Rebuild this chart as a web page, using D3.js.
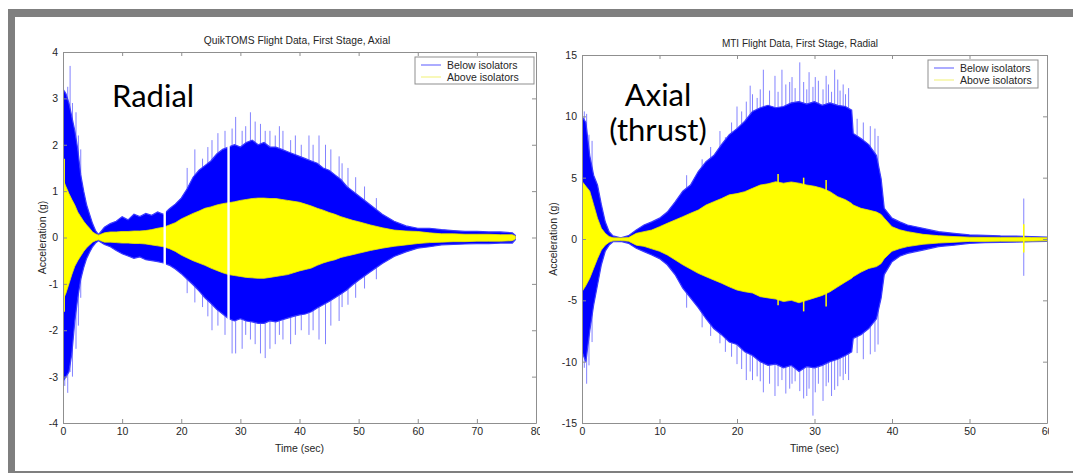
<!DOCTYPE html>
<html>
<head>
<meta charset="utf-8">
<script src="https://cdn.jsdelivr.net/npm/d3@7"></script>
<style>
  body { margin: 0; background: #fff; }
  svg { display: block; }
</style>
</head>
<body>
<div id="chart"></div>
<script>
// ---- data ----

// QuikTOMS panel (left): envelope of the signals, in g
const leftTime = [0, 0.5, 1, 1.5, 2, 2.5, 3, 3.5, 4, 4.5, 5, 5.5, 6, 7, 8, 9, 10, 11, 12, 13, 14, 15, 16, 17, 18, 19, 20, 21, 22, 23, 24, 25, 26, 27, 28, 29, 30, 31, 32, 33, 34, 35, 36, 37, 38, 39, 40, 41, 42, 43, 44, 45, 46, 47, 48, 49, 50, 52, 54, 56, 58, 60, 62, 64, 66, 68, 70, 72, 74, 76, 76.5]
const leftBlueHi = [3.2, 3.1, 2.9, 2.6, 2.3, 1.9, 1.35, 1.0, 0.7, 0.5, 0.3, 0.15, 0.06, 0.22, 0.3, 0.35, 0.45, 0.38, 0.5, 0.45, 0.52, 0.48, 0.55, 0.5, 0.62, 0.72, 0.85, 1.05, 1.3, 1.45, 1.55, 1.65, 1.8, 1.9, 1.95, 2.0, 1.95, 2.05, 2.1, 2.0, 2.05, 1.95, 1.95, 1.9, 1.85, 1.8, 1.75, 1.7, 1.65, 1.6, 1.5, 1.45, 1.35, 1.25, 1.1, 1.0, 0.9, 0.7, 0.5, 0.35, 0.25, 0.2, 0.2, 0.17, 0.15, 0.13, 0.13, 0.12, 0.12, 0.1, 0.05]
const leftBlueLo = [-3.1, -3.0, -2.9, -2.5, -1.8, -1.3, -0.9, -0.65, -0.45, -0.32, -0.2, -0.12, -0.07, -0.15, -0.2, -0.28, -0.35, -0.4, -0.45, -0.42, -0.48, -0.5, -0.52, -0.55, -0.6, -0.68, -0.78, -0.9, -1.02, -1.15, -1.3, -1.42, -1.55, -1.65, -1.75, -1.8, -1.75, -1.8, -1.82, -1.85, -1.85, -1.8, -1.82, -1.78, -1.74, -1.7, -1.67, -1.65, -1.6, -1.52, -1.45, -1.38, -1.3, -1.22, -1.13, -1.02, -0.92, -0.74, -0.56, -0.41, -0.31, -0.23, -0.2, -0.16, -0.15, -0.14, -0.13, -0.13, -0.12, -0.12, -0.05]
const leftYellowHi = [1.25, 1.1, 0.95, 0.82, 0.7, 0.55, 0.45, 0.35, 0.27, 0.2, 0.12, 0.08, 0.05, 0.1, 0.12, 0.12, 0.13, 0.13, 0.14, 0.14, 0.15, 0.17, 0.2, 0.22, 0.27, 0.32, 0.4, 0.46, 0.52, 0.57, 0.63, 0.66, 0.7, 0.73, 0.75, 0.77, 0.8, 0.82, 0.84, 0.85, 0.85, 0.84, 0.84, 0.82, 0.8, 0.78, 0.76, 0.72, 0.68, 0.63, 0.59, 0.54, 0.5, 0.45, 0.41, 0.37, 0.34, 0.27, 0.21, 0.16, 0.14, 0.13, 0.1, 0.08, 0.08, 0.07, 0.07, 0.07, 0.06, 0.06, 0.03]
const leftYellowLo = [-1.35, -1.2, -1.0, -0.8, -0.62, -0.5, -0.4, -0.3, -0.22, -0.16, -0.1, -0.07, -0.05, -0.1, -0.1, -0.11, -0.12, -0.12, -0.13, -0.13, -0.14, -0.16, -0.18, -0.2, -0.24, -0.3, -0.38, -0.44, -0.5, -0.55, -0.6, -0.66, -0.71, -0.76, -0.8, -0.82, -0.84, -0.86, -0.87, -0.88, -0.88, -0.86, -0.84, -0.82, -0.8, -0.76, -0.72, -0.69, -0.66, -0.6, -0.55, -0.51, -0.48, -0.43, -0.4, -0.37, -0.34, -0.28, -0.23, -0.19, -0.16, -0.13, -0.11, -0.1, -0.09, -0.09, -0.08, -0.08, -0.08, -0.07, -0.03]
// single peaks sticking out of the envelope: [time, max, min]
const leftBlueSpikes = [[0.3, 3.15, -3.2], [0.8, 3.25, -3.35], [1.2, 3.7, -2.9], [1.6, 2.9, -3.0], [2.2, 2.7, -2.4], [2.6, 2.2, -1.9], [3.0, 1.9, -1.3], [21.0, 1.5, -1.2], [22.3, 1.9, -1.4], [23.6, 1.7, -1.5], [24.5, 1.95, -1.7], [25.2, 2.1, -2.0], [26.2, 2.25, -1.9], [27.4, 2.3, -2.1], [28.6, 2.35, -2.5], [29.2, 2.6, -2.5], [30.3, 2.3, -2.4], [30.9, 2.4, -2.1], [31.7, 2.7, -2.2], [32.5, 2.5, -2.3], [33.4, 2.45, -2.5], [34.2, 2.3, -2.6], [35.0, 2.3, -2.4], [35.9, 2.2, -2.3], [36.6, 2.4, -2.1], [37.2, 2.3, -2.2], [38.5, 2.1, -2.3], [39.3, 2.2, -2.1], [40.3, 2.0, -2.0], [41.6, 2.2, -2.1], [42.3, 2.0, -2.0], [43.3, 2.2, -2.2], [44.4, 2.0, -2.3], [45.3, 1.9, -1.9], [46.7, 1.75, -1.8], [47.2, 1.6, -1.5], [48.2, 1.5, -1.45], [49.5, 1.3, -1.3], [51.0, 1.1, -1.1], [53.0, 0.85, -0.9]]
const leftYellowSpikes = [[0.2, 1.7, -1.6]]
// dropouts in the record (white gaps)
const leftGaps = [17.2, 28.0]

// MTI panel (right)
const rightTime = [0, 0.5, 1, 1.5, 2, 2.5, 3, 3.5, 4, 5, 6, 7, 8, 9, 10, 11, 12, 13, 14, 15, 16, 17, 18, 19, 20, 21, 22, 23, 24, 25, 26, 27, 28, 29, 30, 31, 32, 33, 34, 34.8, 35, 36, 37, 38, 38.6, 39, 40, 41, 42, 44, 46, 48, 50, 52, 54, 56, 58, 60]
const rightBlueHi = [10.0, 9.5, 6.8, 5.2, 4.4, 2.8, 1.4, 0.6, 0.25, 0.1, 0.27, 0.73, 1.14, 1.4, 1.7, 2.2, 3.0, 3.9, 4.4, 5.5, 6.3, 6.8, 7.7, 8.5, 9.0, 9.6, 10.4, 10.7, 10.9, 10.7, 10.8, 11.1, 11.2, 11.0, 11.2, 10.9, 11.1, 10.9, 10.8, 10.5, 8.6, 8.2, 7.7, 6.8, 4.9, 2.5, 1.7, 1.4, 1.14, 0.87, 0.6, 0.46, 0.33, 0.3, 0.25, 0.24, 0.2, 0.15]
const rightBlueLo = [-9.2, -10.0, -7.5, -5.4, -3.75, -2.1, -1.0, -0.5, -0.22, -0.2, -0.35, -0.76, -1.03, -1.3, -1.6, -2.1, -2.9, -4.0, -4.8, -5.6, -6.5, -7.3, -7.8, -8.4, -8.6, -9.2, -9.5, -10.0, -10.3, -10.2, -10.5, -10.3, -10.8, -10.4, -10.5, -10.3, -10.0, -9.8, -9.5, -9.2, -8.1, -7.8, -7.3, -6.5, -4.8, -2.9, -1.85, -1.4, -1.17, -0.9, -0.62, -0.5, -0.35, -0.3, -0.27, -0.25, -0.22, -0.2]
const rightYellowHi = [4.7, 4.3, 3.9, 2.8, 1.7, 0.87, 0.46, 0.2, 0.1, 0.08, 0.12, 0.46, 0.6, 0.73, 1.0, 1.28, 1.55, 1.82, 2.1, 2.36, 2.77, 3.04, 3.3, 3.6, 3.7, 3.86, 4.13, 4.4, 4.5, 4.67, 4.55, 4.65, 4.55, 4.4, 4.3, 4.13, 3.86, 3.45, 3.2, 2.9, 2.77, 2.5, 2.36, 2.2, 2.0, 1.7, 1.0, 0.75, 0.6, 0.38, 0.27, 0.2, 0.15, 0.14, 0.13, 0.13, 0.12, 0.1]
const rightYellowLo = [-4.3, -3.8, -3.2, -2.4, -1.6, -0.9, -0.5, -0.27, -0.15, -0.12, -0.18, -0.5, -0.6, -0.8, -1.0, -1.3, -1.7, -2.1, -2.45, -2.8, -3.07, -3.34, -3.6, -3.9, -4.16, -4.3, -4.4, -4.7, -4.8, -4.9, -5.1, -5.0, -5.2, -5.0, -4.8, -4.6, -4.3, -3.9, -3.5, -3.2, -3.07, -2.7, -2.4, -2.25, -2.0, -1.6, -1.0, -0.78, -0.62, -0.43, -0.33, -0.27, -0.2, -0.2, -0.18, -0.18, -0.17, -0.15]
const rightBlueSpikes = [[0.3, 10.4, -10.5], [0.6, 10.2, -11.8], [0.9, 8.5, -10.3], [1.3, 8.0, -8.4], [13.5, 5.2, -5.6], [15.5, 6.5, -7.2], [16.6, 7.5, -7.9], [17.8, 8.8, -8.5], [18.5, 8.3, -9.2], [19.3, 9.5, -9.6], [20.0, 10.8, -10.2], [20.6, 10.4, -10.6], [21.2, 11.2, -11.5], [21.7, 12.5, -10.8], [22.0, 11.8, -11.5], [22.6, 11.5, -11.2], [23.0, 12.2, -11.6], [23.4, 13.8, -12.5], [24.2, 12.1, -11.8], [24.9, 13.3, -12.8], [25.3, 12.0, -12.0], [25.8, 13.8, -11.5], [26.3, 12.6, -12.6], [26.8, 12.8, -12.2], [27.1, 13.2, -11.8], [27.5, 12.3, -11.6], [28.1, 14.4, -12.4], [28.6, 12.8, -13.0], [29.0, 12.2, -12.8], [29.3, 13.6, -12.2], [29.8, 12.4, -14.4], [30.1, 13.2, -12.5], [30.5, 12.9, -11.8], [31.1, 12.2, -13.2], [31.5, 13.3, -12.0], [31.8, 12.6, -11.7], [32.2, 12.0, -12.8], [32.6, 13.8, -12.3], [33.0, 13.0, -12.0], [33.3, 12.1, -11.2], [33.7, 12.6, -11.5], [34.0, 11.8, -11.0], [34.4, 12.3, -11.5], [35.5, 9.8, -9.3], [36.3, 9.5, -9.8], [37.2, 9.2, -9.4], [37.8, 9.0, -9.2], [38.2, 8.4, -8.6], [57.0, 3.3, -3.0]]
const rightYellowSpikes = [[25.3, 5.3, -5.4], [28.6, 5.0, -5.9], [31.5, 4.8, -5.5], [57.0, 1.2, -1.1]]
const rightGaps = []

// axes
const leftXTicks = [0, 10, 20, 30, 40, 50, 60, 70, 80]
const leftYTicks = [-4, -3, -2, -1, 0, 1, 2, 3, 4]
const rightXTicks = [0, 10, 20, 30, 40, 50, 60]
const rightYTicks = [-15, -10, -5, 0, 5, 10, 15]
const legendLabels = ['Below isolators', 'Above isolators']

// ---- drawing ----
const W = 1073
const H = 475

const svg = d3.select('#chart').append('svg')
  .attr('width', W)
  .attr('height', H)

// grey frame around the slide
svg.append('rect').attr('x', 8).attr('y', 9).attr('width', W - 8).attr('height', 8).attr('fill', '#7f7f7f')
svg.append('rect').attr('x', 8).attr('y', 9).attr('width', 7).attr('height', 464).attr('fill', '#7f7f7f')
svg.append('rect').attr('x', 8).attr('y', 471).attr('width', W - 8).attr('height', 2).attr('fill', '#7f7f7f')

const BLUE = '#0000ff'
const YELLOW = '#ffff00'
const AXIS = '#8f8f8f'
const TEXT = '#262626'
const FONT = 'Liberation Sans, Arial, sans-serif'

function drawPanel (p) {
  const g = svg.append('g')

  const clipId = 'clip-' + p.id
  const viewId = 'view-' + p.id
  g.append('clipPath').attr('id', clipId)
    .append('rect')
    .attr('x', p.left).attr('y', p.top)
    .attr('width', p.right - p.left).attr('height', p.bottom - p.top)
  // the pasted picture is cut a little right of the plot
  g.append('clipPath').attr('id', viewId)
    .append('rect')
    .attr('x', p.left - 80).attr('y', 20)
    .attr('width', p.cut - p.left + 80).attr('height', 450)

  const root = g.append('g').attr('clip-path', 'url(#' + viewId + ')')

  const x = d3.scaleLinear().domain(p.xDomain).range([p.left, p.right])
  const y = d3.scaleLinear().domain(p.yDomain).range([p.bottom, p.top])

  const rows = p.time.map((t, i) => ({
    t: t, bh: p.blueHi[i], bl: p.blueLo[i], yh: p.yellowHi[i], yl: p.yellowLo[i]
  }))

  const plot = root.append('g').attr('clip-path', 'url(#' + clipId + ')')

  plot.selectAll('line.bspike')
    .data(p.blueSpikes)
    .join('line')
    .attr('class', 'bspike')
    .attr('x1', d => x(d[0])).attr('x2', d => x(d[0]))
    .attr('y1', d => y(d[1])).attr('y2', d => y(d[2]))
    .attr('stroke', '#5a5aff')
    .attr('stroke-width', 1)
    .attr('opacity', 0.75)

  plot.append('path')
    .datum(rows)
    .attr('d', d3.area().x(d => x(d.t)).y0(d => y(d.bl)).y1(d => y(d.bh)))
    .attr('fill', BLUE)
    .attr('stroke', '#3b3bff')
    .attr('stroke-width', 1.2)

  plot.append('path')
    .datum(rows)
    .attr('d', d3.area().x(d => x(d.t)).y0(d => y(d.yl)).y1(d => y(d.yh)))
    .attr('fill', YELLOW)
    .attr('stroke', '#e8e800')
    .attr('stroke-width', 0.8)

  plot.selectAll('line.yspike')
    .data(p.yellowSpikes)
    .join('line')
    .attr('class', 'yspike')
    .attr('x1', d => x(d[0])).attr('x2', d => x(d[0]))
    .attr('y1', d => y(d[1])).attr('y2', d => y(d[2]))
    .attr('stroke', YELLOW)
    .attr('stroke-width', 1.5)

  plot.selectAll('rect.gap')
    .data(p.gaps)
    .join('rect')
    .attr('class', 'gap')
    .attr('x', d => x(d) - 1.2)
    .attr('y', p.top + 1)
    .attr('width', 2.4)
    .attr('height', p.bottom - p.top - 2)
    .attr('fill', '#fff')

  // axes, ticks pointing inward on all four sides like matlab
  const fmt = d => String(d)
  root.append('g')
    .attr('transform', 'translate(0,' + p.bottom + ')')
    .call(d3.axisBottom(x).tickValues(p.xTicks).tickSize(-4).tickSizeOuter(0).tickPadding(5).tickFormat(fmt))
  root.append('g')
    .attr('transform', 'translate(0,' + p.top + ')')
    .call(d3.axisTop(x).tickValues(p.xTicks).tickSize(-4).tickSizeOuter(0).tickFormat(''))
  root.append('g')
    .attr('transform', 'translate(' + p.left + ',0)')
    .call(d3.axisLeft(y).tickValues(p.yTicks).tickSize(-4).tickSizeOuter(0).tickPadding(5).tickFormat(fmt))
  root.append('g')
    .attr('transform', 'translate(' + p.right + ',0)')
    .call(d3.axisRight(y).tickValues(p.yTicks).tickSize(-4).tickSizeOuter(0).tickFormat(''))

  root.selectAll('.domain').attr('stroke', AXIS)
  root.selectAll('.tick line').attr('stroke', AXIS)
  root.selectAll('.tick text')
    .attr('fill', TEXT)
    .attr('font-family', FONT)
    .attr('font-size', 10.5)

  root.append('text')
    .attr('x', p.titleX).attr('y', p.top - 8)
    .attr('text-anchor', 'middle')
    .attr('font-family', FONT).attr('font-size', p.titleSize)
    .attr('fill', TEXT)
    .text(p.title)

  root.append('text')
    .attr('x', (p.left + p.right) / 2).attr('y', p.bottom + 29)
    .attr('text-anchor', 'middle')
    .attr('font-family', FONT).attr('font-size', 10.5)
    .attr('fill', TEXT)
    .text('Time (sec)')

  root.append('text')
    .attr('transform', 'translate(' + p.ylabelX + ',' + y(0) + ') rotate(-90)')
    .attr('text-anchor', 'middle')
    .attr('font-family', FONT).attr('font-size', 10.5)
    .attr('fill', TEXT)
    .text('Acceleration (g)')

  // legend
  const lg = root.append('g').attr('transform', 'translate(' + p.legend.x + ',' + p.legend.y + ')')
  lg.append('rect')
    .attr('width', p.legend.w).attr('height', p.legend.h)
    .attr('fill', '#fff').attr('stroke', AXIS)
  lg.selectAll('line')
    .data(legendLabels)
    .join('line')
    .attr('x1', 6).attr('x2', 26)
    .attr('y1', (d, i) => 8 + i * 12).attr('y2', (d, i) => 8 + i * 12)
    .attr('stroke', (d, i) => i === 0 ? '#7474ff' : '#f4f48a')
    .attr('stroke-width', 1.2)
  lg.selectAll('text')
    .data(legendLabels)
    .join('text')
    .attr('x', 32)
    .attr('y', (d, i) => 12 + i * 12)
    .attr('font-family', FONT).attr('font-size', 10.5)
    .attr('fill', TEXT)
    .text(d => d)

  // big slide annotation
  root.selectAll('text.note')
    .data(p.note)
    .join('text')
    .attr('class', 'note')
    .attr('x', p.noteX)
    .attr('y', (d, i) => p.noteY + i * 35)
    .attr('text-anchor', p.noteAnchor)
    .attr('font-family', 'Lato, Open Sans, sans-serif')
    .attr('font-size', 31)
    .attr('fill', '#000')
    .text(d => d)
}

drawPanel({
  id: 'quik',
  left: 63, right: 536, top: 52, bottom: 423, cut: 540,
  xDomain: [0, 80], yDomain: [-4, 4],
  xTicks: leftXTicks, yTicks: leftYTicks,
  time: leftTime, blueHi: leftBlueHi, blueLo: leftBlueLo, yellowHi: leftYellowHi, yellowLo: leftYellowLo,
  blueSpikes: leftBlueSpikes, yellowSpikes: leftYellowSpikes, gaps: leftGaps,
  title: 'QuikTOMS Flight Data, First Stage, Axial', titleX: 297, titleSize: 10.3,
  ylabelX: 46,
  legend: { x: 415, y: 57, w: 119, h: 27 },
  note: ['Radial'], noteX: 112, noteY: 107, noteAnchor: 'start'
})

drawPanel({
  id: 'mti',
  left: 582, right: 1047, top: 55, bottom: 423, cut: 1049,
  xDomain: [0, 60], yDomain: [-15, 15],
  xTicks: rightXTicks, yTicks: rightYTicks,
  time: rightTime, blueHi: rightBlueHi, blueLo: rightBlueLo, yellowHi: rightYellowHi, yellowLo: rightYellowLo,
  blueSpikes: rightBlueSpikes, yellowSpikes: rightYellowSpikes, gaps: rightGaps,
  title: 'MTI Flight Data, First Stage, Radial', titleX: 800, titleSize: 10,
  ylabelX: 557,
  legend: { x: 928, y: 60, w: 110, h: 28 },
  note: ['Axial', '(thrust)'], noteX: 658, noteY: 106, noteAnchor: 'middle'
})
</script>
</body>
</html>
